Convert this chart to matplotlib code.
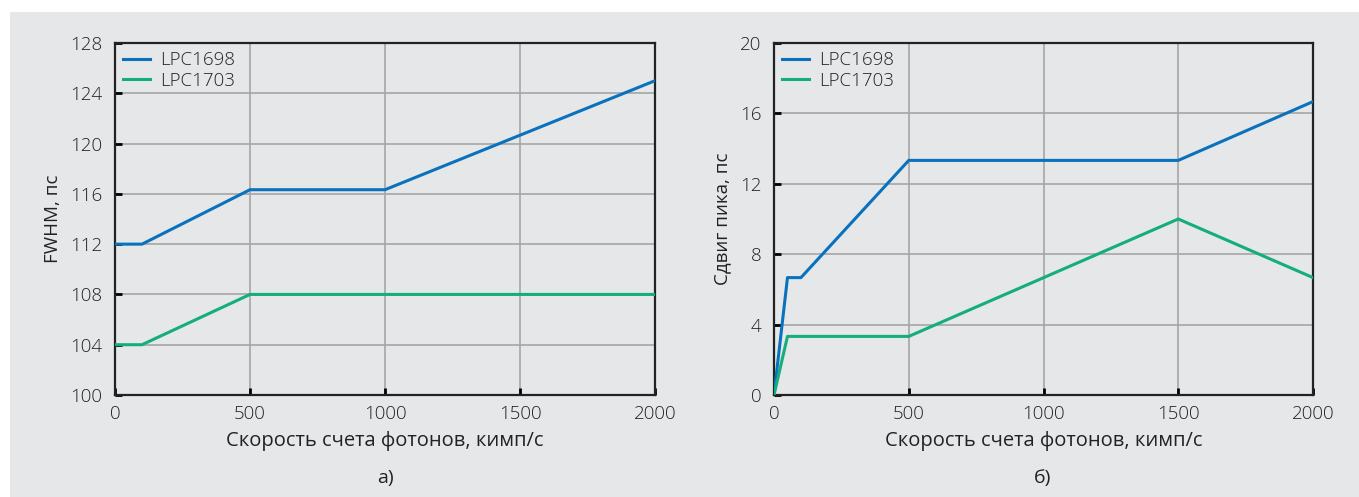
import matplotlib
matplotlib.use("Agg")
import matplotlib.pyplot as plt
from matplotlib.patches import Rectangle

plt.rcParams['font.family'] = ['Open Sans', 'DejaVu Sans']

# Data
x_a_1698 = [0, 100, 500, 1000, 2000]
y_a_1698 = [112, 112, 116.33, 116.33, 125]
x_a_1703 = [0, 100, 500, 2000]
y_a_1703 = [104, 104, 108, 108]

x_b_1698 = [0, 50, 100, 500, 1500, 2000]
y_b_1698 = [0, 6.67, 6.67, 13.33, 13.33, 16.67]
x_b_1703 = [0, 50, 500, 1500, 2000]
y_b_1703 = [0, 3.33, 3.33, 10, 6.67]

series_names = ["LPC1698", "LPC1703"]
xticks = [0, 500, 1000, 1500, 2000]
yticks_a = [100, 104, 108, 112, 116, 120, 124, 128]
yticks_b = [0, 4, 8, 12, 16, 20]
xlabel = "Скорость счета фотонов, кимп/с"
ylabel_a = "FWHM, пс"
ylabel_b = "Сдвиг пика, пс"
captions = ["а)", "б)"]

BLUE = "#0a72bd"
GREEN = "#13ad7e"
BG = "#e6e7e9"
GRID = "#a6a6a6"
TXT = "#222222"
FW_TICK = 300
FW_LAB = 400

W, H = 1359, 497
fig = plt.figure(figsize=(W / 100, H / 100), dpi=100)
fig.patch.set_facecolor("white")
fig.patches.append(Rectangle((10 / W, 0), 1 - 10 / W, 1 - 12 / H,
                             transform=fig.transFigure, facecolor=BG,
                             edgecolor="none", zorder=-10))

def px_axes(l, t, r, b):
    return fig.add_axes([l / W, 1 - b / H, (r - l) / W, (b - t) / H])

ax_a = px_axes(115, 43, 655, 395)
ax_b = px_axes(774, 43, 1313, 395)

def style(ax, yticks, ylabel):
    ax.set_facecolor(BG)
    ax.set_xlim(0, 2000)
    ax.set_ylim(yticks[0], yticks[-1])
    ax.set_xticks(xticks)
    ax.set_yticks(yticks)
    ax.grid(True, color=GRID, linewidth=1.2, zorder=0)
    ax.set_axisbelow(True)
    for s in ax.spines.values():
        s.set_color("#222222")
        s.set_linewidth(1.6)
    ax.tick_params(direction="in", length=5, width=2, color="black",
                   labelsize=13.5, labelcolor=TXT)
    ax.tick_params(axis="y", pad=9)
    ax.tick_params(axis="x", pad=7)
    for lab in ax.get_xticklabels() + ax.get_yticklabels():
        lab.set_fontweight(FW_TICK)
    ax.set_xlabel(xlabel, fontsize=14.5, color=TXT, labelpad=6, fontweight=FW_LAB)
    ax.set_ylabel(ylabel, fontsize=13.5, color=TXT, labelpad=6, fontweight=FW_LAB)

style(ax_a, yticks_a, ylabel_a)
style(ax_b, yticks_b, ylabel_b)

ax_a.plot(x_a_1698, y_a_1698, color=BLUE, lw=2.2, label=series_names[0], zorder=3)
ax_a.plot(x_a_1703, y_a_1703, color=GREEN, lw=2.2, label=series_names[1], zorder=3)
ax_b.plot(x_b_1698, y_b_1698, color=BLUE, lw=2.2, label=series_names[0], zorder=3)
ax_b.plot(x_b_1703, y_b_1703, color=GREEN, lw=2.2, label=series_names[1], zorder=3)

for ax in (ax_a, ax_b):
    leg = ax.legend(loc="upper left", frameon=False,
                    prop={"size": 13.5, "weight": FW_TICK},
                    handlelength=1.4, handletextpad=0.55, borderaxespad=0.0,
                    labelspacing=0.12, borderpad=0.45)
    for t in leg.get_texts():
        t.set_color(TXT)

fig.text(385 / W, 1 - 478 / H, captions[0], ha="center", va="center",
         fontsize=14, color=TXT, fontweight=FW_LAB)
fig.text(1043 / W, 1 - 478 / H, captions[1], ha="center", va="center",
         fontsize=14, color=TXT, fontweight=FW_LAB)

fig.savefig("out.png", dpi=100)
